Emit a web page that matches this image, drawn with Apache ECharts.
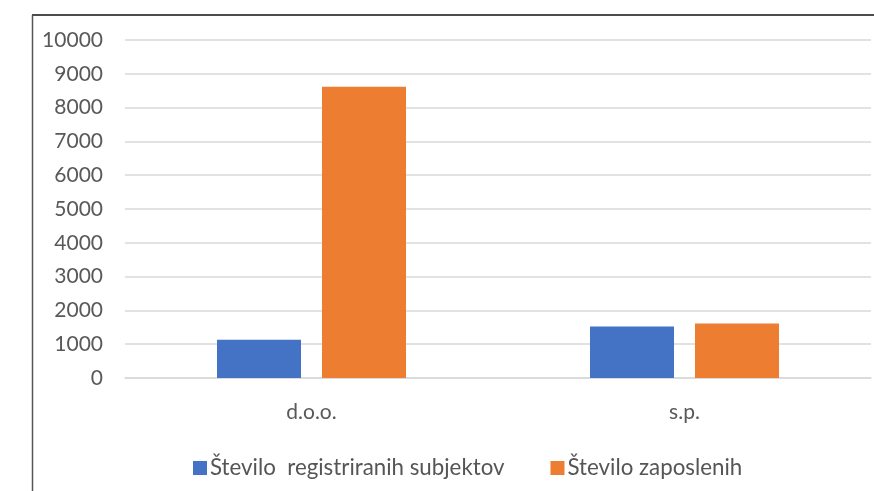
<!DOCTYPE html>
<html>
<head>
<meta charset="utf-8">
<script src="https://cdn.jsdelivr.net/npm/echarts@6/dist/echarts.min.js"></script>
<style>
  html, body { margin: 0; padding: 0; background: #fff; }
  #chart { width: 874px; height: 491px; }
</style>
</head>
<body>
<div id="chart"></div>
<script>
const categories = ['d.o.o.', 's.p.']
const seriesNames = ['Število  registriranih subjektov', 'Število zaposlenih']
const registrirani = [1130, 1520]
const zaposleni = [8620, 1610]

const chart = echarts.init(document.getElementById('chart'))

const font = 'Lato, "Open Sans", sans-serif'

chart.setOption({
  animation: false,
  color: ['#4472C4', '#ED7D31'],
  graphic: [
    // frame (top and left edges)
    { type: 'line', shape: { x1: 32, y1: 15, x2: 874, y2: 15 }, style: { stroke: '#111', lineWidth: 1.5 } },
    { type: 'line', shape: { x1: 32.5, y1: 15, x2: 32.5, y2: 491 }, style: { stroke: '#555', lineWidth: 1.5 } }
  ],
  grid: { left: 125, right: 3, top: 40, bottom: 113 },
  legend: {
    left: 188,
    top: 452,
    itemWidth: 14,
    itemHeight: 14,
    itemGap: 46,
    icon: 'rect',
    textStyle: { fontFamily: font, fontSize: 22.3, color: '#555', padding: [0, 0, 0, -2] },
    data: seriesNames
  },
  xAxis: {
    type: 'category',
    data: categories,
    axisLine: { show: true, lineStyle: { color: '#d9d9d9', width: 1.5 } },
    axisTick: { show: false },
    axisLabel: { fontFamily: font, fontSize: 21, color: '#595959', margin: 24 }
  },
  yAxis: {
    type: 'value',
    min: 0,
    max: 10000,
    interval: 1000,
    axisLine: { show: false },
    axisTick: { show: false },
    splitLine: { lineStyle: { color: '#d9d9d9', width: 1.5 } },
    axisLabel: { fontFamily: font, fontSize: 21, color: '#595959', margin: 22, formatter: v => String(v) }
  },
  series: [
    { name: seriesNames[0], type: 'bar', data: registrirani, barWidth: 84, barGap: '25%' },
    { name: seriesNames[1], type: 'bar', data: zaposleni, barWidth: 84, barGap: '25%' }
  ]
})
</script>
</body>
</html>
